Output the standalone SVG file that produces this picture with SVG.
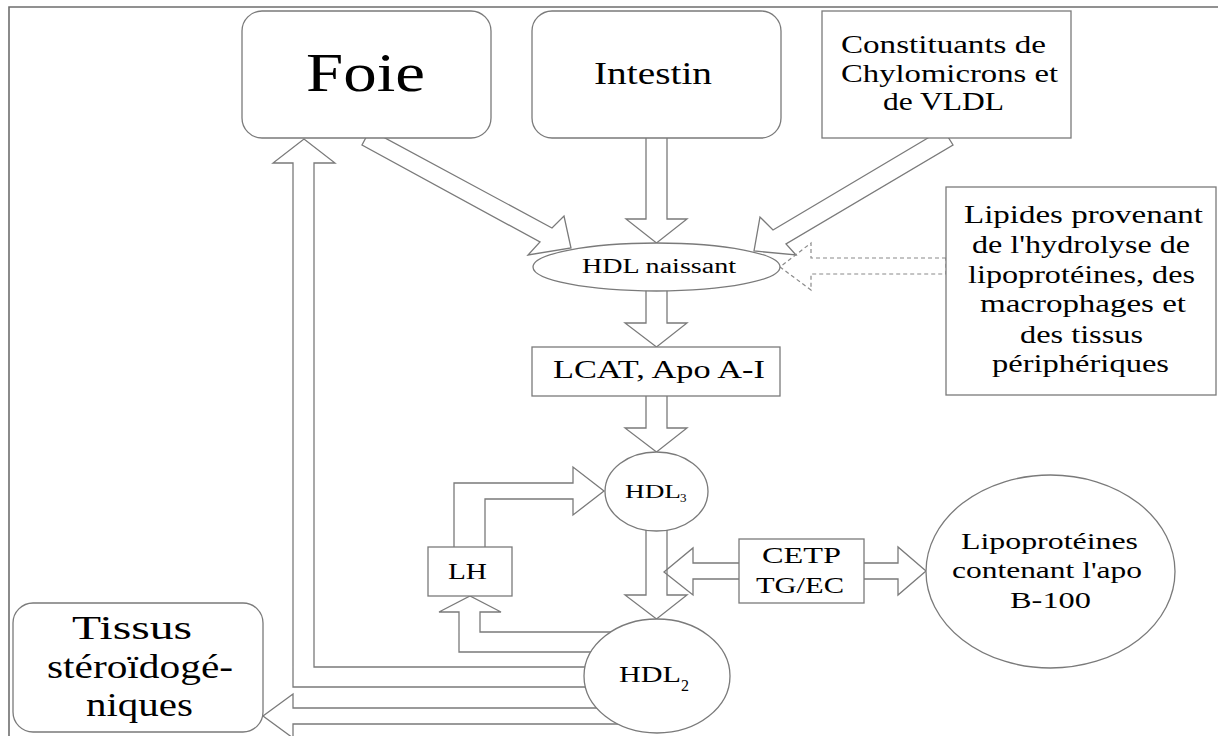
<svg xmlns="http://www.w3.org/2000/svg" width="1218" height="736" viewBox="0 0 1218 736">
<style>
.frame{stroke:#6e6e6e;stroke-width:1.6;fill:none}
.conn polygon{fill:none;stroke:#7a7a7a;stroke-width:1.3;stroke-linejoin:miter}
.conn .dash{stroke:#8a8a8a;stroke-dasharray:4 3;stroke-width:1.2}
.box{fill:#fff;stroke:#7a7a7a;stroke-width:1.3}
text{font-family:"Liberation Serif","Times New Roman",serif;fill:#000}
</style>
<rect width="1218" height="736" fill="#fff"/>
<path class="frame" d="M9,736 V7 H1218"/>
<g id="connectors" class="conn">
<polygon points="370,130 362,145 540,242 528,255 571,248 564,216 552,228"/>
<polygon points="646,130 646,219 626,219 656.5,243 687,219 667,219 667,130"/>
<polygon points="943,129 773,230 760,217 754,251 796,255 786,244 953,145"/>
<polygon class="dash" points="946,258 811,258 811,243 780,267 811,290 811,274 946,274"/>
<polygon points="646,285 646,323 625,323 656.5,347 687,323 667,323 667,285"/>
<polygon points="646,390 646,428 625,428 656.5,452 687,428 667,428 667,390"/>
<polygon points="646,525 646,595 625,595 656.5,619 687,595 667,595 667,525"/>
<polygon points="745,563 693,563 693,548 664,572 693,595 693,579 745,579"/>
<polygon points="860,563 898,563 898,547 926,571 898,595 898,579 860,579"/>
<polygon points="454,552 454,483 573,483 573,467 604,491 573,515 573,499 485,499 485,552"/>
<polygon points="620,632 480,632 480,612 501,612 470,596 439,612 459,612 459,652 620,652"/>
<polygon points="620,667 314,667 314,163 335,163 304,139 273,163 293,163 293,687 620,687"/>
<polygon points="640,708 293,708 293,694 263,716 293,738 293,724 640,724"/>
</g>
<g id="foie">
<rect class="box" x="242" y="11" width="249" height="127" rx="20"/>
<text x="306" y="91" font-size="54" textLength="119" lengthAdjust="spacingAndGlyphs">Foie</text>
</g>
<g id="intestin">
<rect class="box" x="532" y="11" width="249" height="127" rx="20"/>
<text x="594" y="84" font-size="31" textLength="118" lengthAdjust="spacingAndGlyphs">Intestin</text>
</g>
<g id="constituants">
<rect class="box" x="822" y="11" width="249" height="127"/>
<text x="841" y="53" font-size="25" textLength="205" lengthAdjust="spacingAndGlyphs">Constituants de</text>
<text x="841" y="82" font-size="25" textLength="217" lengthAdjust="spacingAndGlyphs">Chylomicrons et</text>
<text x="883" y="110" font-size="25" textLength="121" lengthAdjust="spacingAndGlyphs">de VLDL</text>
</g>
<g id="lipides">
<rect class="box" x="946" y="187" width="270" height="208"/>
<text x="964" y="223" font-size="25" textLength="239" lengthAdjust="spacingAndGlyphs">Lipides provenant</text>
<text x="972" y="253" font-size="25" textLength="218" lengthAdjust="spacingAndGlyphs">de l'hydrolyse de</text>
<text x="968" y="283" font-size="25" textLength="227" lengthAdjust="spacingAndGlyphs">lipoprotéines, des</text>
<text x="980" y="312" font-size="25" textLength="206" lengthAdjust="spacingAndGlyphs">macrophages et</text>
<text x="1020" y="343" font-size="25" textLength="123" lengthAdjust="spacingAndGlyphs">des tissus</text>
<text x="992" y="372" font-size="25" textLength="177" lengthAdjust="spacingAndGlyphs">périphériques</text>
</g>
<g id="hdl-naissant">
<ellipse class="box" cx="656.5" cy="267" rx="123.5" ry="24"/>
<text x="582" y="273" font-size="20" textLength="154" lengthAdjust="spacingAndGlyphs">HDL naissant</text>
</g>
<g id="lcat">
<rect class="box" x="532" y="347" width="248" height="49"/>
<text x="553" y="378" font-size="25" textLength="212" lengthAdjust="spacingAndGlyphs">LCAT, Apo A-I</text>
</g>
<g id="hdl3">
<ellipse class="box" cx="656.5" cy="491.5" rx="51.5" ry="39.5"/>
<text x="625" y="498" font-size="19" textLength="56" lengthAdjust="spacingAndGlyphs">HDL</text>
<text x="680" y="502" font-size="13">3</text>
</g>
<g id="lh">
<rect class="box" x="428" y="547" width="84" height="49"/>
<text x="448" y="579" font-size="23" textLength="39" lengthAdjust="spacingAndGlyphs">LH</text>
</g>
<g id="cetp">
<rect class="box" x="739" y="539" width="125" height="64"/>
<text x="762" y="563" font-size="23" textLength="79" lengthAdjust="spacingAndGlyphs">CETP</text>
<text x="756" y="593" font-size="23" textLength="88" lengthAdjust="spacingAndGlyphs">TG/EC</text>
</g>
<g id="lipoproteines">
<ellipse class="box" cx="1050.5" cy="571.5" rx="124.5" ry="96.5"/>
<text x="961" y="549" font-size="24" textLength="177" lengthAdjust="spacingAndGlyphs">Lipoprotéines</text>
<text x="952" y="578" font-size="24" textLength="190" lengthAdjust="spacingAndGlyphs">contenant l'apo</text>
<text x="1010" y="608" font-size="24" textLength="81" lengthAdjust="spacingAndGlyphs">B-100</text>
</g>
<g id="hdl2">
<ellipse class="box" cx="657" cy="676" rx="73" ry="57"/>
<text x="619" y="682" font-size="23" textLength="62" lengthAdjust="spacingAndGlyphs">HDL</text>
<text x="681" y="691" font-size="16">2</text>
</g>
<g id="tissus">
<rect class="box" x="13" y="603" width="250" height="129" rx="20"/>
<text x="72" y="639" font-size="34" textLength="120" lengthAdjust="spacingAndGlyphs">Tissus</text>
<text x="47" y="678" font-size="34" textLength="186" lengthAdjust="spacingAndGlyphs">stéroïdogé-</text>
<text x="86" y="716" font-size="34" textLength="107" lengthAdjust="spacingAndGlyphs">niques</text>
</g>
</svg>
